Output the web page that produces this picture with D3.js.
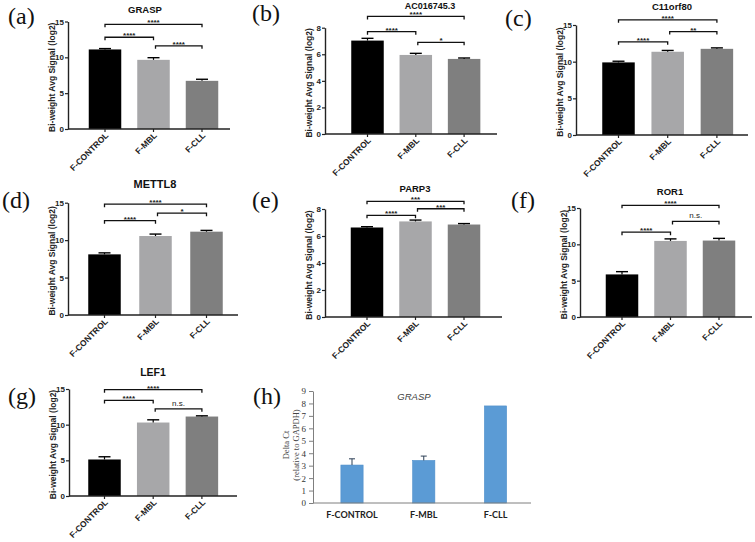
<!DOCTYPE html>
<html>
<head>
<meta charset="utf-8">
<script src="https://cdn.jsdelivr.net/npm/d3@7/dist/d3.min.js"></script>
<style>
body { margin: 0; background: #fff; }
svg { display: block; }
</style>
</head>
<body>
<div id="chart"></div>
<script>
// groups and genes
const groups = ["F-CONTROL", "F-MBL", "F-CLL"];
const genes = ["GRASP", "AC016745.3", "C11orf80", "METTL8", "PARP3", "ROR1", "LEF1"];
const yMaxes = [15, 8, 15, 15, 8, 15, 15];
const ticks15 = [0, 5, 10, 15];
const ticks8 = [0, 2, 4, 6, 8];

// Bi-weight avg signal (log2), mean per group
const means = [
    [11.1, 9.65, 6.72],
    [7.03, 5.95, 5.65],
    [9.9, 11.35, 11.75],
    [8.1, 10.55, 11.13],
    [6.63, 7.08, 6.85],
    [5.86, 10.47, 10.52],
    [5.12, 10.3, 11.14]
];
const errors = [
    [0.12, 0.3, 0.22],
    [0.17, 0.12, 0.07],
    [0.16, 0.18, 0.13],
    [0.2, 0.26, 0.17],
    [0.06, 0.1, 0.07],
    [0.38, 0.28, 0.3],
    [0.38, 0.38, 0.1]
];
// significance brackets: [from, to, height, label]
const brackets = [
    [[0, 2, 14.6, "****"], [0, 1, 12.8, "****"], [1, 2, 11.6, "****"]],
    [[0, 2, 8.85, "****"], [0, 1, 7.7, "****"], [1, 2, 6.9, "*"]],
    [[0, 2, 15.7, "****"], [0, 1, 12.7, "****"], [1, 2, 14.1, "**"]],
    [[0, 2, 14.8, "****"], [0, 1, 12.6, "****"], [1, 2, 13.6, "*"]],
    [[0, 2, 8.57, "***"], [0, 1, 7.53, "****"], [1, 2, 8.02, "***"]],
    [[0, 2, 15.37, "****"], [0, 1, 11.67, "****"], [1, 2, 13.15, "n.s."]],
    [[0, 2, 14.9, "****"], [0, 1, 13.4, "****"], [1, 2, 12.22, "n.s."]]
];

// qPCR panel (h)
const qpcrGene = "GRASP";
const qpcrMeans = [3.05, 3.42, 7.8];
const qpcrErrors = [0.5, 0.35, 0];
const qpcrTicks = [0, 1, 2, 3, 4, 5, 6, 7, 8, 9];

const barColors = ["#000000", "#a7a7a9", "#7f7f7f"];
const sans = "'Liberation Sans', Arial, sans-serif";
const serif = "'Liberation Serif', 'Times New Roman', serif";

// Panel-Layout (Pixel)
const panels = [
    { letter: "(a)", lx: 8, ly: 24, axisX: 68, right: 230, c0: 105, step: 48.5, y0: 129, yTop: 21.5, titleX: 145, titleY: 13, titleSize: 9.5 },
    { letter: "(b)", lx: 252, ly: 21, axisX: 325, right: 497, c0: 367.5, step: 48.3, y0: 134, yTop: 27.7, titleX: 430, titleY: 8.5, titleSize: 9 },
    { letter: "(c)", lx: 505, ly: 26, axisX: 576, right: 748, c0: 618.5, step: 49.2, y0: 135, yTop: 25, titleX: 672, titleY: 9.5, titleSize: 9.5 },
    { letter: "(d)", lx: 2, ly: 208, axisX: 68, right: 238, c0: 104.5, step: 51, y0: 315, yTop: 202.7, titleX: 155, titleY: 188, titleSize: 11 },
    { letter: "(e)", lx: 252, ly: 208, axisX: 325, right: 502, c0: 367, step: 48.5, y0: 317, yTop: 209, titleX: 415, titleY: 192, titleSize: 9.5 },
    { letter: "(f)", lx: 511, ly: 208, axisX: 580, right: 752, c0: 622, step: 48.5, y0: 317, yTop: 208, titleX: 670, titleY: 195, titleSize: 9.5 },
    { letter: "(g)", lx: 8, ly: 404, axisX: 69, right: 237, c0: 104.5, step: 48.7, y0: 496, yTop: 389, titleX: 153, titleY: 376, titleSize: 10.5 }
];

const width = 755;
const height = 542;
const svg = d3.select("#chart").append("svg")
    .attr("width", width)
    .attr("height", height);

function panelLetter(text, x, y) {
    svg.append("text")
        .attr("x", x)
        .attr("y", y)
        .text(text)
        .style("font-family", serif)
        .style("font-size", "24px")
        .style("fill", "#111");
}

// GraphPad-Panels (a)-(g)
panels.forEach((p, i) => {
    const g = svg.append("g");
    const barW = 32.5;
    const x = d3.scaleBand()
        .domain(groups)
        .range([p.c0 - p.step / 2, p.c0 + p.step * 2.5])
        .paddingInner(1 - barW / p.step)
        .paddingOuter((1 - barW / p.step) / 2);
    const y = d3.scaleLinear().domain([0, yMaxes[i]]).range([p.y0, p.yTop]);
    const cx = d => x(d) + x.bandwidth() / 2;

    // Balken
    g.selectAll("rect.bar")
        .data(groups)
        .join("rect")
        .attr("x", d => x(d))
        .attr("width", x.bandwidth())
        .attr("y", (d, j) => y(means[i][j]))
        .attr("height", (d, j) => p.y0 - y(means[i][j]))
        .style("fill", (d, j) => barColors[j]);

    // Fehlerbalken
    groups.forEach((d, j) => {
        const top = y(means[i][j] + errors[i][j]);
        g.append("line")
            .attr("x1", cx(d)).attr("x2", cx(d))
            .attr("y1", y(means[i][j])).attr("y2", top)
            .style("stroke", "#000").style("stroke-width", 1.2);
        g.append("line")
            .attr("x1", cx(d) - 6).attr("x2", cx(d) + 6)
            .attr("y1", top).attr("y2", top)
            .style("stroke", "#000").style("stroke-width", 1.4);
    });

    // Y-Achse
    const yAxis = g.append("g")
        .attr("transform", `translate(${p.axisX},0)`)
        .call(d3.axisLeft(y).tickValues(yMaxes[i] === 8 ? ticks8 : ticks15).tickSize(3).tickSizeOuter(0));
    yAxis.select(".domain").style("stroke", "#222").style("stroke-width", 1.4);
    yAxis.selectAll(".tick line").style("stroke", "#222").style("stroke-width", 1.2);
    yAxis.selectAll(".tick text")
        .attr("x", -4)
        .style("font-family", sans)
        .style("font-size", "8px")
        .style("font-weight", "bold")
        .style("fill", "#222");

    // X-Achse
    const xAxis = g.append("g")
        .attr("transform", `translate(0,${p.y0})`)
        .call(d3.axisBottom(x).tickSize(3).tickFormat(""));
    xAxis.select(".domain").remove();
    xAxis.selectAll(".tick line").style("stroke", "#222").style("stroke-width", 1.2);
    g.append("line")
        .attr("x1", p.axisX).attr("x2", p.right)
        .attr("y1", p.y0).attr("y2", p.y0)
        .style("stroke", "#222").style("stroke-width", 1.4);

    groups.forEach(d => {
        g.append("text")
            .attr("transform", `translate(${cx(d) + 4},${p.y0 + 7}) rotate(-45)`)
            .attr("text-anchor", "end")
            .text(d)
            .style("font-family", sans)
            .style("font-size", "8.5px")
            .style("font-weight", "bold")
            .style("fill", "#222");
    });

    // Y-Beschriftung
    g.append("text")
        .attr("transform", `translate(${p.axisX - 13},${(p.y0 + p.yTop) / 2 + 2}) rotate(-90)`)
        .attr("text-anchor", "middle")
        .text("Bi-weight Avg Signal (log2)")
        .style("font-family", sans)
        .style("font-size", "8.5px")
        .style("font-weight", "bold")
        .style("fill", "#222");

    // Titel
    g.append("text")
        .attr("x", p.titleX)
        .attr("y", p.titleY)
        .attr("text-anchor", "middle")
        .text(genes[i])
        .style("font-family", sans)
        .style("font-size", p.titleSize + "px")
        .style("font-weight", "bold")
        .style("fill", "#111");

    // Signifikanz-Klammern
    brackets[i].forEach(b => {
        const x1 = cx(groups[b[0]]) + (b[0] === 1 ? 2 : 0);
        const x2 = cx(groups[b[1]]);
        const by = y(b[2]);
        g.append("path")
            .attr("d", `M${x1},${by + 3}V${by}H${x2}V${by + 3}`)
            .style("fill", "none")
            .style("stroke", "#111")
            .style("stroke-width", 1.3);
        const ns = b[3] === "n.s.";
        g.append("text")
            .attr("x", (x1 + x2) / 2)
            .attr("y", ns ? by - 3 : by + 1)
            .attr("text-anchor", "middle")
            .text(b[3])
            .style("font-family", sans)
            .style("font-size", "8px")
            .style("font-weight", ns ? "normal" : "bold")
            .style("fill", "#222");
    });

    panelLetter(p.letter, p.lx, p.ly);
});

// Panel (h): qPCR
(function () {
    const axisX = 313, right = 531, y0 = 503, yTop = 391;
    const g = svg.append("g");
    const step = 71.75;
    const x = d3.scaleBand()
        .domain(groups)
        .range([352 - step / 2, 352 + step * 2.5])
        .paddingInner(0.69)
        .paddingOuter(0.345);
    const y = d3.scaleLinear().domain([0, 9]).range([y0, yTop]);
    const cx = d => x(d) + x.bandwidth() / 2;

    g.selectAll("rect.bar")
        .data(groups)
        .join("rect")
        .attr("x", d => x(d))
        .attr("width", x.bandwidth())
        .attr("y", (d, j) => y(qpcrMeans[j]))
        .attr("height", (d, j) => y0 - y(qpcrMeans[j]))
        .style("fill", "#5b9bd5")
        .style("stroke", "#4f8fca")
        .style("stroke-width", 0.6);

    groups.forEach((d, j) => {
        if (qpcrErrors[j] <= 0) return;
        const top = y(qpcrMeans[j] + qpcrErrors[j]);
        g.append("line")
            .attr("x1", cx(d)).attr("x2", cx(d))
            .attr("y1", y(qpcrMeans[j])).attr("y2", top)
            .style("stroke", "#2b3e55").style("stroke-width", 1);
        g.append("line")
            .attr("x1", cx(d) - 3).attr("x2", cx(d) + 3)
            .attr("y1", top).attr("y2", top)
            .style("stroke", "#2b3e55").style("stroke-width", 1);
    });

    const yAxis = g.append("g")
        .attr("transform", `translate(${axisX},0)`)
        .call(d3.axisLeft(y).tickValues(qpcrTicks).tickSize(4).tickSizeOuter(0));
    yAxis.select(".domain").style("stroke", "#7f7f7f").style("stroke-width", 1);
    yAxis.selectAll(".tick line").style("stroke", "#7f7f7f");
    yAxis.selectAll(".tick text")
        .attr("x", -7)
        .style("font-family", serif)
        .style("font-size", "9px")
        .style("fill", "#333");

    g.append("line")
        .attr("x1", axisX).attr("x2", right)
        .attr("y1", y0).attr("y2", y0)
        .style("stroke", "#7f7f7f").style("stroke-width", 1);

    groups.forEach(d => {
        g.append("text")
            .attr("x", cx(d))
            .attr("y", y0 + 15)
            .attr("text-anchor", "middle")
            .text(d)
            .style("font-family", "Lato, 'Open Sans', sans-serif")
            .style("font-size", "9px")
            .style("font-weight", "bold")
            .style("fill", "#222");
    });

    const lab = g.append("text")
        .attr("transform", `translate(0,${(y0 + yTop) / 2 - 2}) rotate(-90)`)
        .attr("text-anchor", "middle")
        .style("font-family", serif)
        .style("font-size", "8.5px")
        .style("fill", "#444");
    lab.append("tspan").attr("x", 0).attr("y", 289).text("Delta Ct");
    lab.append("tspan").attr("x", 0).attr("y", 299).text("(relative to GAPDH)");

    g.append("text")
        .attr("x", 414)
        .attr("y", 400)
        .attr("text-anchor", "middle")
        .text(qpcrGene)
        .style("font-family", sans)
        .style("font-size", "9.5px")
        .style("font-style", "italic")
        .style("fill", "#404040");

    panelLetter("(h)", 253, 404);
})();
</script>
</body>
</html>
